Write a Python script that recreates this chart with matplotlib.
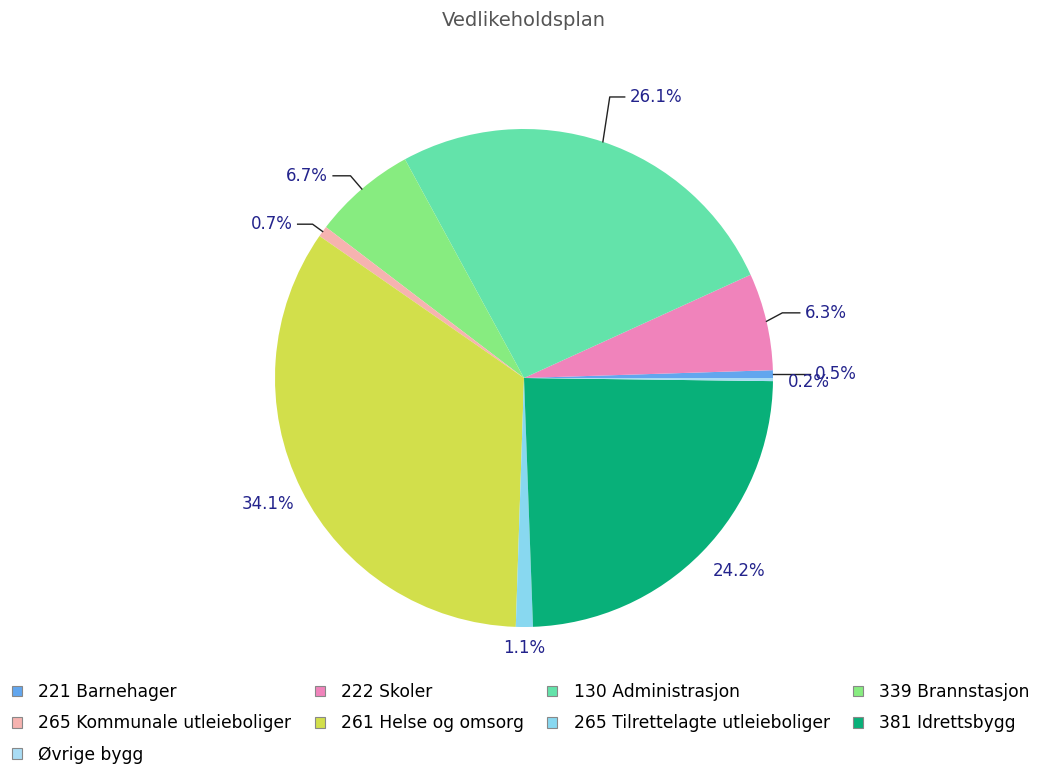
import numpy as np
import matplotlib
matplotlib.use("Agg")
import matplotlib.pyplot as plt
from matplotlib.patches import Patch

# ---- data ----
categories = ["221 Barnehager", "222 Skoler", "130 Administrasjon", "339 Brannstasjon",
              "265 Kommunale utleieboliger", "261 Helse og omsorg",
              "265 Tilrettelagte utleieboliger", "381 Idrettsbygg", "Øvrige bygg"]
values = [0.5, 6.3, 26.1, 6.7, 0.7, 34.1, 1.1, 24.2, 0.2]
labels = ["0.5%", "6.3%", "26.1%", "6.7%", "0.7%", "34.1%", "1.1%", "24.2%", "0.2%"]
colors = ["#62a6ee", "#f083bb", "#63e3aa", "#87ec80", "#f6b3b0",
          "#d2df4b", "#88d8f0", "#08b079", "#a9dcf4"]
title = "Vedlikeholdsplan"

# ---- layout (label placement, not data) ----
# (kind, radius of elbow / label, horizontal arm length, angle offset deg)
label_layout = [
    ("leader", 1.00, 0.15, 0),
    ("leader", 1.07, 0.07, 1),
    ("leader", 1.18, 0.06, 1.5),
    ("leader", 1.07, 0.07, 0),
    ("leader", 1.05, 0.06, 0),
    ("plain", 1.145, 0, -0.5),
    ("plain", 1.085, 0, 0),
    ("plain", 1.16, 0, 2.5),
    ("plainleft", 1.06, 0, -0.5),
]

W, H = 1043, 764
fig = plt.figure(figsize=(W / 100, H / 100), dpi=100)
cx, cy, R = 524, 378, 249
half = 300
ax = fig.add_axes([(cx - half) / W, (H - cy - half) / H, 2 * half / W, 2 * half / H])

wedges, _ = ax.pie(values, colors=colors, startangle=0, counterclock=True,
                   radius=1.0, wedgeprops=dict(linewidth=0))
lim = half / R
ax.set_xlim(-lim, lim)
ax.set_ylim(-lim, lim)
ax.set_aspect("equal")
ax.axis("off")

label_color = "#23238c"
fs = 12
for w, lab, (kind, r, arm, off) in zip(wedges, labels, label_layout):
    mid = np.deg2rad((w.theta1 + w.theta2) / 2)
    ang = mid + np.deg2rad(off)
    ca, sa = np.cos(ang), np.sin(ang)
    if kind == "leader":
        x0, y0 = np.cos(mid), np.sin(mid)
        x1, y1 = r * ca, r * sa
        side = 1 if ca >= 0 else -1
        x2 = x1 + side * arm
        ax.plot([x0, x1, x2], [y0, y1, y1], color="#222222", lw=1.0, clip_on=False)
        ax.text(x2 + side * 0.02, y1, lab, color=label_color, fontsize=fs,
                ha="left" if side > 0 else "right", va="center")
    elif kind == "plainleft":
        ax.text(r * ca, r * sa, lab, color=label_color, fontsize=fs,
                ha="left", va="center")
    else:
        ax.text(r * ca, r * sa, lab, color=label_color, fontsize=fs,
                ha="center", va="center")

fig.text(524 / W, 1 - 20 / H, title, ha="center", va="center", fontsize=14, color="#555555")

handles = [Patch(facecolor=c, edgecolor="#888888", linewidth=0.8) for c in colors]
# reorder so column-major filling looks row-major (4 columns)
order = [0, 4, 8, 1, 5, 2, 6, 3, 7]
fig.legend([handles[i] for i in order], [categories[i] for i in order],
           loc="upper left", bbox_to_anchor=(12 / W, 1 - 683 / H), ncol=4,
           frameon=False, fontsize=12.3, borderaxespad=0, borderpad=0,
           handlelength=0.6, handleheight=0.6, handletextpad=0.95,
           columnspacing=1.35, labelspacing=0.78)

fig.savefig("out.png", dpi=100)
